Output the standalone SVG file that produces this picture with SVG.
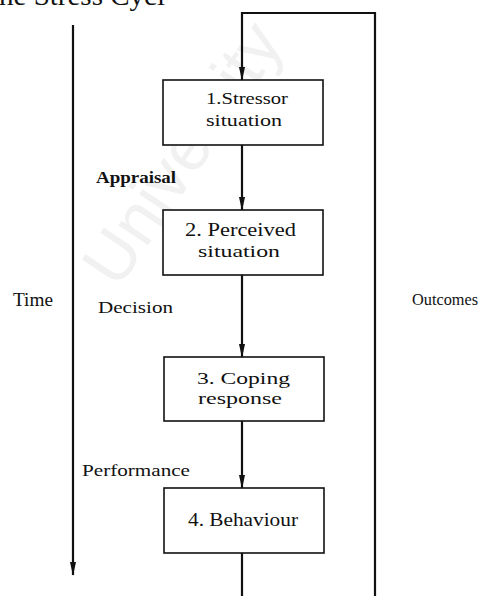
<svg xmlns="http://www.w3.org/2000/svg" width="483" height="596" viewBox="0 0 483 596">
<style>
.t{font-family:"Liberation Serif","Times New Roman",serif;fill:#111;}
.box{fill:#fff;stroke:#111;stroke-width:1.6;}
.ln{fill:none;stroke:#111;stroke-width:2.2;}
.wm{font-family:"Liberation Sans",Arial,sans-serif;font-size:68px;fill:#f1f1f1;}
</style>
<defs>
<marker id="av" markerUnits="userSpaceOnUse" markerWidth="14" markerHeight="8" refX="13" refY="4" orient="auto" viewBox="0 0 14 8">
<path d="M0,1 L14,4 L0,7 Z" fill="#111"/>
</marker>
</defs>
<rect width="483" height="596" fill="#fff"/>
<text class="wm" x="118" y="290" transform="rotate(-56 118 290)">University</text>
<text class="t" x="-1" y="5" font-size="27" textLength="166" lengthAdjust="spacingAndGlyphs">he Stress Cycl</text>

<g id="connectors">
<path class="ln" d="M73,25 V575" marker-end="url(#av)"/>
<path class="ln" d="M375,596 V13 H242 V80" marker-end="url(#av)"/>
<path class="ln" d="M242,145 V210" marker-end="url(#av)"/>
<path class="ln" d="M242,275 V357" marker-end="url(#av)"/>
<path class="ln" d="M242,421 V488" marker-end="url(#av)"/>
<path class="ln" d="M242,553 V596"/>
</g>

<g id="node1">
<rect class="box" x="163" y="80" width="160" height="65"/>
<text class="t" x="206" y="104" font-size="17" textLength="82" lengthAdjust="spacingAndGlyphs">1.Stressor</text>
<text class="t" x="206" y="126" font-size="17" textLength="76" lengthAdjust="spacingAndGlyphs">situation</text>
</g>
<g id="node2">
<rect class="box" x="163" y="210" width="160" height="65"/>
<text class="t" x="185" y="236" font-size="18" textLength="111" lengthAdjust="spacingAndGlyphs">2. Perceived</text>
<text class="t" x="198" y="257" font-size="17" textLength="82" lengthAdjust="spacingAndGlyphs">situation</text>
</g>
<g id="node3">
<rect class="box" x="164" y="357" width="160" height="64"/>
<text class="t" x="197" y="384" font-size="17" textLength="93" lengthAdjust="spacingAndGlyphs">3. Coping</text>
<text class="t" x="198" y="404" font-size="16" textLength="84" lengthAdjust="spacingAndGlyphs">response</text>
</g>
<g id="node4">
<rect class="box" x="164" y="488" width="160" height="65"/>
<text class="t" x="188" y="526" font-size="18" textLength="110" lengthAdjust="spacingAndGlyphs">4. Behaviour</text>
</g>

<g id="labels">
<text class="t" x="96" y="183" font-size="17" font-weight="bold" textLength="80" lengthAdjust="spacingAndGlyphs">Appraisal</text>
<text class="t" x="98" y="313" font-size="17" textLength="75" lengthAdjust="spacingAndGlyphs">Decision</text>
<text class="t" x="82" y="476" font-size="17" textLength="108" lengthAdjust="spacingAndGlyphs">Performance</text>
<text class="t" x="13" y="306" font-size="18" textLength="40" lengthAdjust="spacingAndGlyphs">Time</text>
<text class="t" x="412" y="305" font-size="16" textLength="66" lengthAdjust="spacingAndGlyphs">Outcomes</text>
</g>
</svg>
